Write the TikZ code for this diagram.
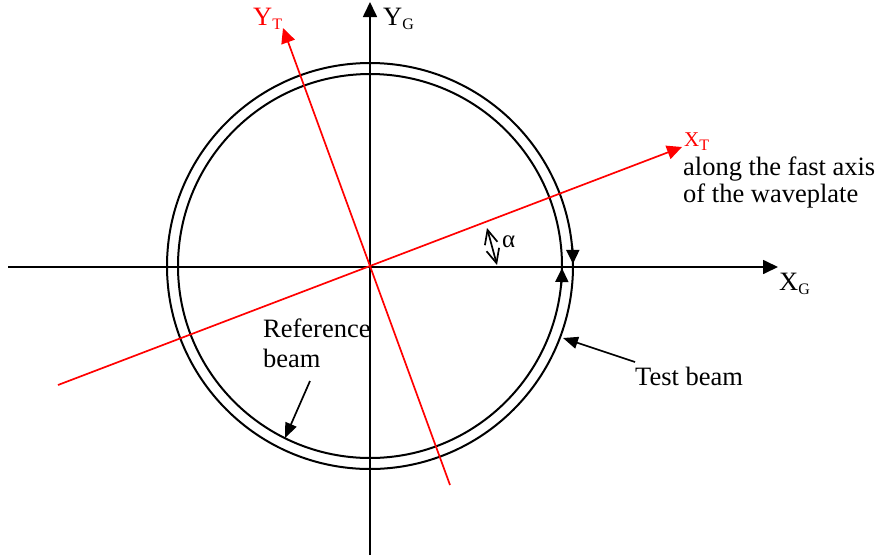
\documentclass[tikz,border=0pt]{standalone}
\usepackage{fontspec}
\setmainfont{Liberation Serif}
\usetikzlibrary{arrows.meta}
\definecolor{axred}{RGB}{255,0,0}
\newcommand{\lowsub}[1]{\raisebox{-4pt}{\fontsize{16}{16}\selectfont #1}}
\begin{document}
\begin{tikzpicture}[x=1pt,y=-1pt,
  axis/.style={line width=1.7pt,-{Triangle[length=15pt,width=14pt]}},
  raxis/.style={axis,draw=axred},
  ring/.style={line width=2pt},
  lbl/.style={anchor=base west,inner sep=0pt,font=\fontsize{26.5}{28}\selectfont},
  rlbl/.style={lbl,text=axred},
  pointer/.style={line width=1.7pt,-{Triangle[length=15pt,width=12pt]}},
  ringtip/.style={line width=2pt,-{Triangle[length=14pt,width=13pt]}},
  barb/.style={line width=1.7pt,{Straight Barb[length=14pt,width=13pt]}-{Straight Barb[length=14pt,width=13pt]}}]
\useasboundingbox (0,0) rectangle (876,558);
% centre
\coordinate (O) at (370,266);
% rings
\draw[ring] (O) circle[radius=203];
\draw[ring] (O) circle[radius=192];
% global axes
\coordinate (xg0) at (8,267);
\coordinate (xg1) at (778,267);
\coordinate (yg0) at (370,555);
\coordinate (yg1) at (370,2);
\draw[axis] (xg0) -- (xg1);
\draw[axis] (yg0) -- (yg1);
% tilted axes
\coordinate (xt0) at (58,385);
\coordinate (xt1) at (682,147);
\coordinate (yt0) at (450,485);
\coordinate (yt1) at (283,28);
\draw[raxis] (xt0) -- (xt1);
\draw[raxis] (yt0) -- (yt1);
% ring arrow tips
\draw[ringtip] (O) ++(-6:203) arc[start angle=-6,end angle=-0.6,radius=203];
\draw[ringtip] (O) ++(6:192) arc[start angle=6,end angle=0.6,radius=192];
% angle alpha
\coordinate (a0) at (497,265);
\coordinate (a1) at (487,228);
\draw[barb] (a0) -- (a1);
\node[lbl,font=\fontsize{25}{26}\selectfont] (alpha) at (502,247) {α};
% labels
\node[lbl] (YG) at (383,25) {Y\lowsub{G}};
\node[rlbl] (YT) at (253,25) {Y\lowsub{T}};
\node[lbl] (XG) at (779,290) {X\lowsub{G}};
\node[rlbl,font=\fontsize{21}{24}\selectfont] (XT) at (684,146) {X\lowsub{T}};
\node[lbl] (fast1) at (683,175) {along the fast axis};
\node[lbl] (fast2) at (683,202) {of the waveplate};
\node[lbl] (test) at (635,385) {Test beam};
\node[lbl] (ref1) at (263,337) {Reference};
\node[lbl] (ref2) at (263,367) {beam};
% pointers
\coordinate (tp) at (563,338);
\coordinate (rp) at (285,438);
\coordinate (ttail) at (635,362);
\coordinate (rtail) at (310,381);
\draw[pointer] (ttail) -- (tp);
\draw[pointer] (rtail) -- (rp);
\end{tikzpicture}
\end{document}
